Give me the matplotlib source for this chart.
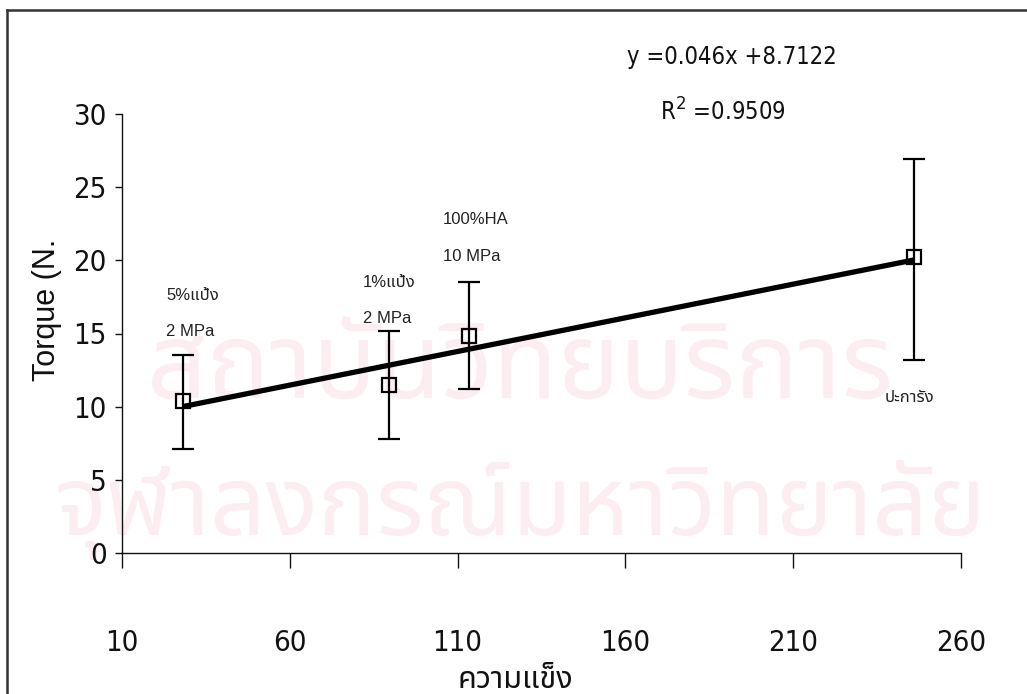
import matplotlib
matplotlib.use("Agg")
import matplotlib.pyplot as plt
from matplotlib import font_manager
from matplotlib.font_manager import FontProperties
from matplotlib.ft2font import FT2Font
from matplotlib.lines import Line2D

# ---- data -------------------------------------------------------------
hardness = [28.3, 89.5, 113.5, 246.0]          # ความแข็ง
torque = [10.4, 11.5, 14.8, 20.2]              # Torque (N.cm)
err_low = [3.3, 3.7, 3.6, 7.0]
err_high = [3.1, 3.7, 3.7, 6.7]
point_labels = [["5%แป้ง", "2 MPa"], ["1%แป้ง", "2 MPa"], ["100%HA", "10 MPa"], ["ปะการัง"]]
slope = 0.046
intercept = 8.7122
r_squared = 0.9509
x_ticks = [10, 60, 110, 160, 210, 260]
y_ticks = [0, 5, 10, 15, 20, 25, 30]


def find_family(codepoint, prefer=()):
    """Return an installed font family that has a glyph for codepoint."""
    seen = []
    for entry in font_manager.fontManager.ttflist:
        try:
            if codepoint in FT2Font(entry.fname).get_charmap():
                seen.append(entry.name)
        except Exception:
            continue
    for name in prefer:
        if name in seen:
            return name
    return seen[0] if seen else "DejaVu Sans"


def find_condensed():
    """Return the file of a narrow/condensed regular sans font, if one is installed."""
    best = None
    for entry in font_manager.fontManager.ttflist:
        label = entry.name.lower()
        narrowish = ("narrow" in label or "condensed" in label
                     or str(entry.stretch) in ("condensed", "semi-condensed", "extra-condensed", "ultra-condensed"))
        if not narrowish or entry.style != "normal" or entry.weight not in (400, "normal", "regular"):
            continue
        if "mono" in label or "serif" in label and "sans" not in label:
            continue
        if best is None or "liberation" in label:
            best = entry.fname
    return best


thai = find_family(0x0E04, prefer=("Noto Sans Thai", "Noto Sans Thai UI", "Loma",
                                   "Garuda", "Norasi", "Waree", "Tlwg Typo"))
cond_file = find_condensed()


def num_font(size):
    if cond_file:
        return FontProperties(fname=cond_file, size=size)
    return FontProperties(family="Liberation Sans", size=size)


plain = ["Liberation Sans", thai, "DejaVu Sans"]

W, H = 1027, 694
fig = plt.figure(figsize=(W / 100, H / 100), dpi=100)
fig.patch.set_facecolor("white")

# faint background watermark, kept beneath the plot
for txt, y, size in (("สถาบันวิทยบริการ", 370, 76), ("จุฬาลงกรณ์มหาวิทยาลัย", 510, 70)):
    fig.text(520 / W, 1 - y / H, txt, fontsize=size, color="#fcedf1",
             family=[thai, "DejaVu Sans"], ha="center", va="center", zorder=-5)

# page border (top and left edges)
fig.add_artist(Line2D([7 / W, 1.0], [1 - 10 / H, 1 - 10 / H], color="#333333", lw=1.8,
                      transform=fig.transFigure))
fig.add_artist(Line2D([7 / W, 7 / W], [0, 1 - 10 / H], color="#333333", lw=1.8,
                      transform=fig.transFigure))

left, right, top, bottom = 122, 961, 114, 553
ax = fig.add_axes([left / W, 1 - bottom / H, (right - left) / W, (bottom - top) / H])
ax.set_zorder(2)
ax.patch.set_alpha(0)

ax.set_xlim(x_ticks[0], x_ticks[-1])
ax.set_ylim(y_ticks[0], y_ticks[-1])
for s in ("top", "right"):
    ax.spines[s].set_visible(False)
for s in ("left", "bottom"):
    ax.spines[s].set_linewidth(1.0)
    ax.spines[s].set_color("#111111")

ax.set_xticks(x_ticks)
ax.set_yticks(y_ticks)
ax.tick_params(axis="x", direction="out", length=11, width=1.0, pad=44, colors="#111111")
ax.tick_params(axis="y", direction="out", length=5, width=1.0, pad=6, colors="#111111")
for lab in ax.get_xticklabels() + ax.get_yticklabels():
    lab.set_fontproperties(num_font(21))

# error bars with open square markers
ax.errorbar(hardness, torque, yerr=[err_low, err_high], fmt="s", ms=10,
            mfc="none", mec="black", mew=1.6, ecolor="black", elinewidth=1.6,
            capsize=8, capthick=1.6, zorder=3)

# linear trend line
x0, x1 = hardness[0], hardness[-1]
ax.plot([x0, x1], [slope * x0 + intercept, slope * x1 + intercept],
        color="black", lw=3.8, solid_capstyle="butt", zorder=4)

# point annotations
label_pos = [(166, [295, 332]), (363, [283, 318]), (443, [220, 257]), (885, [397])]
for lines, (px, ys) in zip(point_labels, label_pos):
    for txt, py in zip(lines, ys):
        fig.text(px / W, 1 - py / H, txt, fontsize=12, color="#222222",
                 family=plain, ha="left", va="center", zorder=3)

# regression equation
fig.text(627 / W, 1 - 57 / H, f"y ={slope:.3f}x +{intercept:.4f}",
         fontproperties=num_font(17), color="#111111", ha="left", va="center", zorder=3)
fig.text(660 / W, 1 - 112 / H, f"R$^2$ ={r_squared:.4f}",
         fontproperties=num_font(17), color="#111111", ha="left", va="center", zorder=3)

# axis titles
fig.text(47 / W, 1 - 310 / H, "Torque (N.", rotation=90, fontsize=22,
         family=plain, color="#111111", ha="center", va="center", zorder=3)
fig.text(515 / W, 1 - 688 / H, "ความแข็ง", fontsize=22, fontweight="bold",
         family=[thai, "DejaVu Sans"], color="#111111", ha="center", va="baseline", zorder=3)

fig.savefig("out.png", dpi=100)
